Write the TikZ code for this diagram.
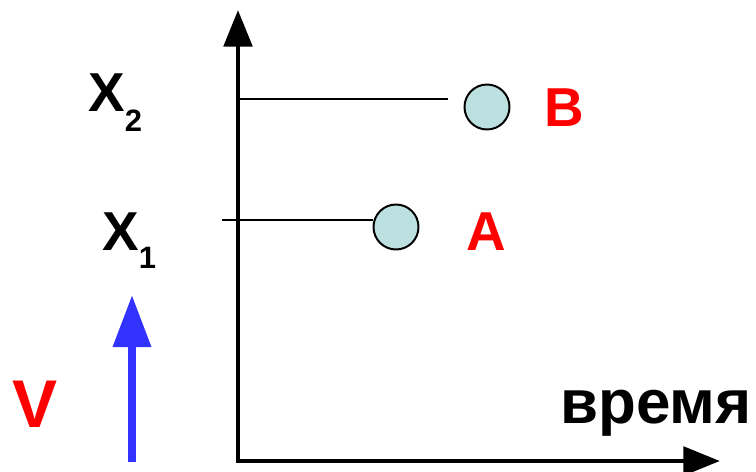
\documentclass[tikz,border=0pt]{standalone}
\usepackage{fontspec}
\setmainfont{Liberation Sans}
\usetikzlibrary{arrows.meta,positioning}

\definecolor{ballfill}{HTML}{BCE0E0}
\definecolor{vblue}{HTML}{3333FF}

\begin{document}
\begin{tikzpicture}[x=0.025cm, y=-0.025cm,
  big/.style={font=\fontsize{39}{39}\selectfont\bfseries, inner sep=0pt, anchor=base west},
  ball/.style={draw, circle, fill=ballfill, line width=1.4pt, minimum size=32pt, inner sep=0pt},
  level/.style={line width=1.4pt},
  axis/.style={line width=3.5pt, -{Triangle[length=26pt,width=20pt]}}]
\useasboundingbox (0,0) rectangle (756,472);

% axes
\coordinate (o) at (238,461);
\coordinate (ytip) at (238,10);
\coordinate (xtip) at (720,461);
\draw[axis] (238,463) -- (ytip);
\draw[axis] (236,461) -- (xtip);

% points
\node[ball] (b) at (487,107) {};
\node[ball] (a) at (396,227) {};
\coordinate (x2) at (240,99);
\coordinate (x1) at (222,220);
\draw[level] (x2) -- (448,99);
\draw[level] (x1) -- (x1 -| a.west);

% labels
\node[big] (lx2) at (88,112) {X\raisebox{-14pt}{\fontsize{22}{22}\selectfont\bfseries 2}};
\node[big] (lx1) at (102,250) {X\raisebox{-13pt}{\fontsize{22}{22}\selectfont\bfseries 1}};
\node[big, text=red] (la) at (466,250) {A};
\node[big, text=red] (lb) at (544,127) {B};
\node[big, text=red, font=\fontsize{48}{48}\selectfont\bfseries] (lv) at (12,427) {V};
\node[big, font=\fontsize{44}{44}\selectfont\bfseries] (lt) at (560,423) {время};

% velocity
\coordinate (vfoot) at (132,462);
\coordinate (vtip) at (132,295);
\draw[vblue, line width=5.7pt, -{Triangle[length=37pt,width=26pt]}] (vfoot) -- (vtip);

\end{tikzpicture}
\end{document}
